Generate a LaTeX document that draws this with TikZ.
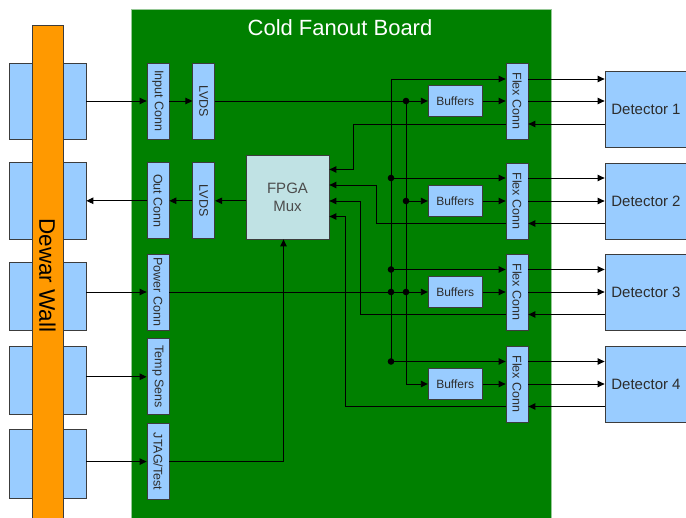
\documentclass[tikz,border=0pt]{standalone}
\usepackage{fontspec}
\setmainfont{Liberation Sans}
\usetikzlibrary{arrows.meta, positioning}
\definecolor{board}{RGB}{0, 128, 0}
\definecolor{boardedge}{RGB}{150, 200, 150}
\definecolor{boxblue}{RGB}{153, 204, 255}
\definecolor{boxedge}{RGB}{60, 60, 60}
\definecolor{wallor}{RGB}{255, 153, 0}
\definecolor{fpgafill}{RGB}{192, 226, 228}
\definecolor{txt}{RGB}{45, 45, 45}

\begin{document}
\begin{tikzpicture}[x=1pt, y=-1pt,
    blk/.style={draw=boxedge, fill=boxblue, line width=0.8pt, inner sep=0pt, text=txt},
    lbox/.style={blk, minimum width=77pt},
    conn/.style={blk, minimum width=22pt, minimum height=76pt,
      label={[rotate=-90, inner sep=0pt, text=txt, font=\fontsize{12.5}{14}\selectfont]center:#1}},
    buf/.style={blk, minimum width=54pt, minimum height=31pt, font=\fontsize{12}{14}\selectfont},
    det/.style={blk, minimum width=82pt, minimum height=76pt, font=\fontsize{15}{18}\selectfont},
    arr/.style={-{Triangle[length=7pt, width=6.5pt]}, line width=0.9pt}]
  \useasboundingbox (0,0) rectangle (686,518);
  % board
  \node[fill=board, draw=boardedge, line width=1pt, minimum width=420pt,
        minimum height=520pt, anchor=north west] (board) at (131,9) {};
  \node[text=white, font=\fontsize{22}{26}\selectfont] (title) at (340,28) {Cold Fanout Board};
  % outside connectors and dewar wall
  \node[lbox, minimum height=76pt] (lbox1) at (47.5,101) {};
  \node[lbox, minimum height=77pt] (lbox2) at (47.5,200.5) {};
  \node[lbox, minimum height=68pt] (lbox3) at (47.5,296) {};
  \node[lbox, minimum height=68pt] (lbox4) at (47.5,380) {};
  \node[lbox, minimum height=69pt] (lbox5) at (47.5,463.5) {};
  \node[draw=boxedge, fill=wallor, line width=0.8pt, minimum width=31pt, minimum height=500pt,
        anchor=north, label={[rotate=-90, font=\fontsize{22.5}{26}\selectfont]center:Dewar Wall}] (wall) at (47.5,25) {};
  % board connectors
  \node[conn=Input Conn] (inc) at (158,101) {};
  \node[conn=LVDS, right=23pt of inc] (lvdsin) {};
  \node[conn=Out Conn, below=23pt of inc] (outc) {};
  \node[conn=LVDS, right=23pt of outc] (lvdsout) {};
  \node[conn=Power Conn] (pwr) at (158,292) {};
  \node[conn=Temp Sens, below=8pt of pwr] (temp) {};
  \node[conn={JTAG/Test}, below=8pt of temp] (jtag) {};
  \node[draw=boxedge, fill=fpgafill, line width=0.8pt, minimum width=83pt, minimum height=84pt,
        align=center, text=txt!85, font=\fontsize{15}{18}\selectfont] (fpga) at (287.5,197) {FPGA\\Mux};
  % flex side
  \node[conn=Flex Conn] (flex1) at (517,101) {};
  \node[conn=Flex Conn] (flex2) at (517,201) {};
  \node[conn=Flex Conn] (flex3) at (517,292) {};
  \node[conn=Flex Conn] (flex4) at (517,384) {};
  \node[buf, left=23pt of flex1] (buf1) {Buffers};
  \node[buf, left=23pt of flex2] (buf2) {Buffers};
  \node[buf, left=23pt of flex3] (buf3) {Buffers};
  \node[buf, left=23pt of flex4] (buf4) {Buffers};
  \node[det] (det1) at (646,109) {Detector 1};
  \node[det] (det2) at (646,201) {Detector 2};
  \node[det] (det3) at (646,292) {Detector 3};
  \node[det] (det4) at (646,384) {Detector 4};
  % bus points
  \coordinate (ba1) at (391,79);
  \coordinate (ba2) at (391,178);
  \coordinate (ba3) at (391,269.5);
  \coordinate (ba4) at (391,361.5);
  \coordinate (bp) at (391,292);
  \coordinate (bb1) at (406,101);
  \coordinate (bb2) at (406,201);
  \coordinate (bb3) at (406,292);
  \coordinate (bb4) at (406,384);
  \coordinate (fb1a) at (353,124);
  \coordinate (fb1b) at (353,169.5);
  \coordinate (fb2a) at (376,223.5);
  \coordinate (fb2b) at (376,185);
  \coordinate (fb3a) at (360,314.5);
  \coordinate (fb3b) at (360,201);
  \coordinate (fb4a) at (345,406.5);
  \coordinate (fb4b) at (345,216.5);
  % through the wall
  \draw[arr] (lbox1.east |- inc) -- (inc);
  \draw[arr] (outc) -- (lbox2.east |- outc);
  \draw[arr] (lbox3.east |- pwr) -- (pwr);
  \draw[arr] (lbox4.east |- temp) -- (temp);
  \draw[arr] (lbox5.east |- jtag) -- (jtag);
  % data path
  \draw[arr] (inc) -- (lvdsin);
  \draw[arr] (lvdsin) -- (buf1);
  \draw[arr] (fpga.west |- lvdsout) -- (lvdsout);
  \draw[arr] (lvdsout) -- (outc);
  \draw[arr] (jtag) -| ([xshift=-4pt]fpga.south);
  \draw[arr] (pwr) -- (buf3);
  % buses
  \draw[line width=0.9pt] (ba1) -- (ba4);
  \draw[line width=0.9pt] (bb1) -- (bb4);
  \draw[arr] (ba1) -- (flex1.west |- ba1);
  \draw[arr] (ba2) -- (flex2.west |- ba2);
  \draw[arr] (ba3) -- (flex3.west |- ba3);
  \draw[arr] (ba4) -- (flex4.west |- ba4);
  \draw[arr] (bb2) -- (buf2);
  \draw[arr] (bb4) -- (buf4);
  \fill (bb1) circle (3.3) (bb2) circle (3.3) (bb3) circle (3.3) (bp) circle (3.3)
        (ba2) circle (3.3) (ba3) circle (3.3) (ba4) circle (3.3);
  \draw[arr] (buf1) -- (flex1);
  \draw[arr] (buf2) -- (flex2);
  \draw[arr] (buf3) -- (flex3);
  \draw[arr] (buf4) -- (flex4);
  % back to the fpga
  \draw[arr] (flex1.west |- fb1a) -- (fb1a) -- (fb1b) -- (fpga.east |- fb1b);
  \draw[arr] (flex2.west |- fb2a) -- (fb2a) -- (fb2b) -- (fpga.east |- fb2b);
  \draw[arr] (flex3.west |- fb3a) -- (fb3a) -- (fb3b) -- (fpga.east |- fb3b);
  \draw[arr] (flex4.west |- fb4a) -- (fb4a) -- (fb4b) -- (fpga.east |- fb4b);
  % detectors
  \draw[arr] (flex1.east |- ba1) -- (det1.west |- ba1);
  \draw[arr] (flex1) -- (det1.west |- flex1);
  \draw[arr] (det1.west |- fb1a) -- (flex1.east |- fb1a);
  \draw[arr] (flex2.east |- ba2) -- (det2.west |- ba2);
  \draw[arr] (flex2) -- (det2);
  \draw[arr] (det2.west |- fb2a) -- (flex2.east |- fb2a);
  \draw[arr] (flex3.east |- ba3) -- (det3.west |- ba3);
  \draw[arr] (flex3) -- (det3);
  \draw[arr] (det3.west |- fb3a) -- (flex3.east |- fb3a);
  \draw[arr] (flex4.east |- ba4) -- (det4.west |- ba4);
  \draw[arr] (flex4) -- (det4);
  \draw[arr] (det4.west |- fb4a) -- (flex4.east |- fb4a);
\end{tikzpicture}
\end{document}
